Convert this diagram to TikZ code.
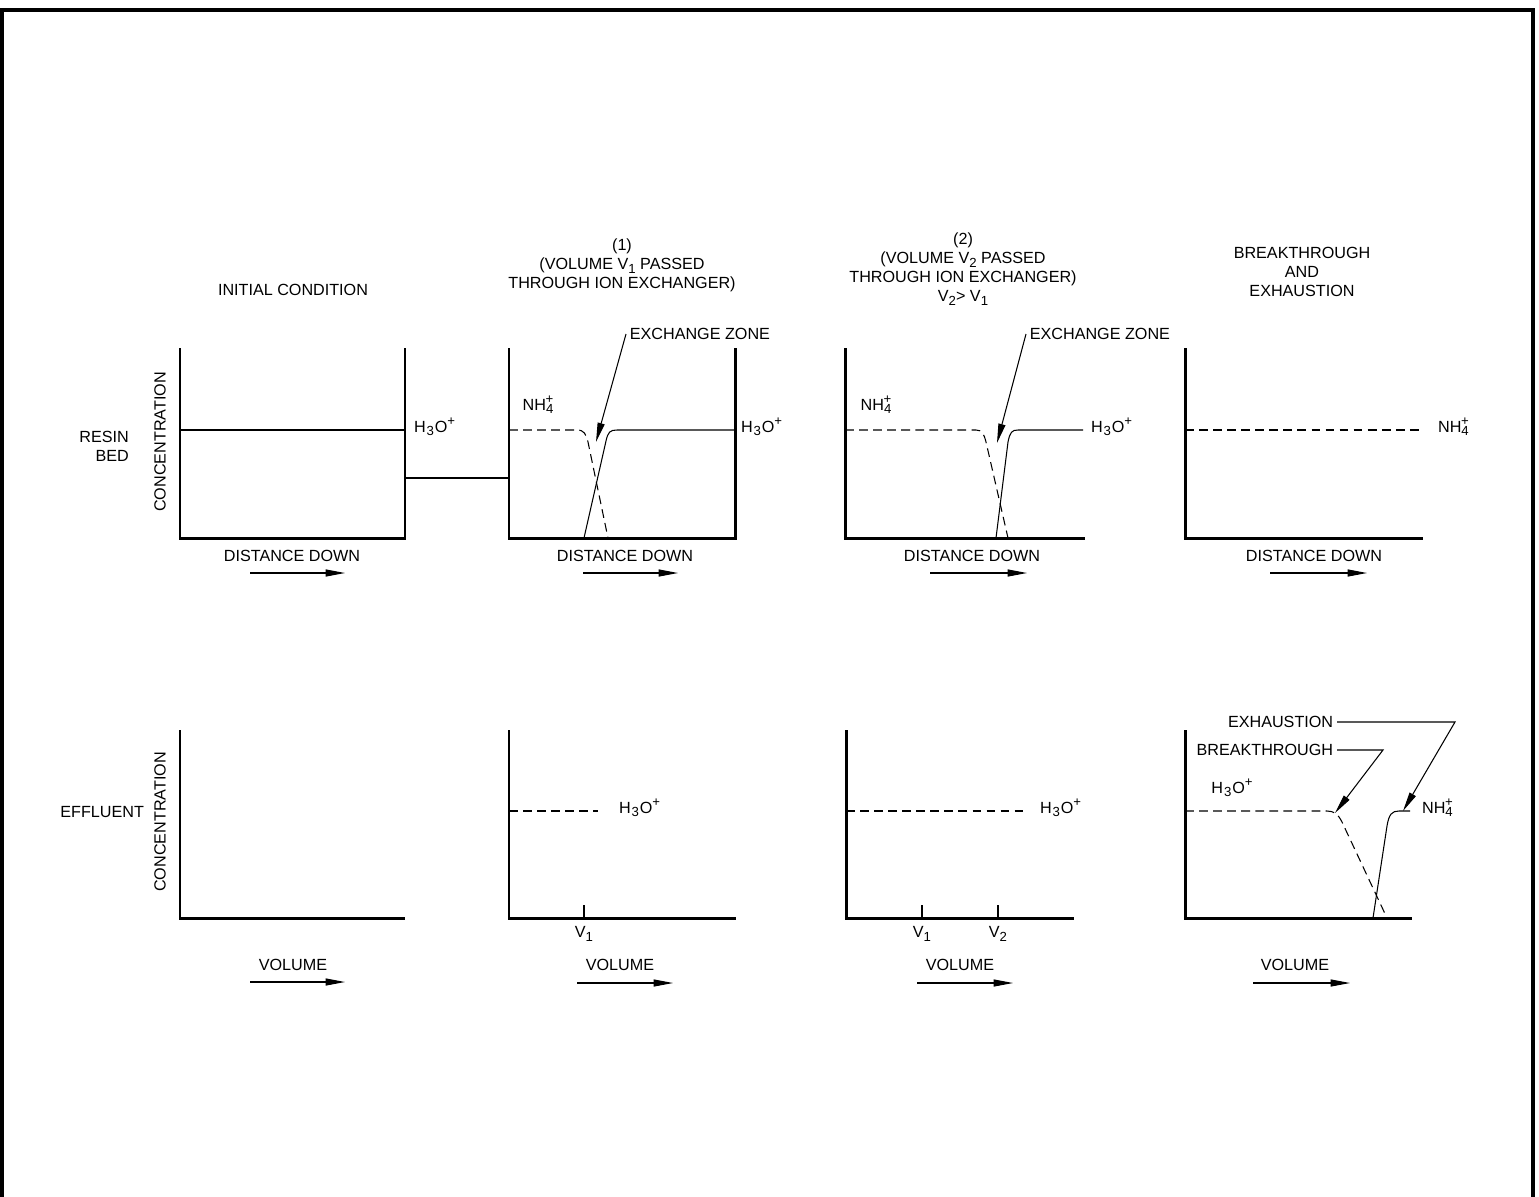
\documentclass[tikz,border=0pt]{standalone}
\usepackage{fontspec}
\setmainfont{Liberation Sans}
\usetikzlibrary{arrows.meta, positioning}

\newcommand{\lowidx}[1]{\raisebox{-0.45ex}{\fontsize{7.5}{8}\selectfont #1}}
\newcommand{\highidx}[1]{\raisebox{0.75ex}{\fontsize{7.5}{8}\selectfont #1}}
\newcommand{\hthreeo}{H\kern0.5pt\lowidx{3}\kern0.5pt O\highidx{+}}
\newcommand{\nhfour}{NH\lowidx{4}\llap{\highidx{+}}}

\begin{document}
\begin{tikzpicture}[
    x=0.02cm, y=-0.02cm,
    every node/.style={font=\fontsize{9.2}{10.8}\selectfont, inner sep=1pt},
    frame/.style={line width=2.3pt},
    axisline/.style={line width=1.7pt},
    curve/.style={line width=0.6pt},
    dashcurve/.style={line width=0.6pt, dash pattern=on 5pt off 3pt},
    pointer/.style={
        line width=0.6pt, -{Triangle[length=11pt, width=4pt]}
    },
    dirarrow/.style={
        line width=0.6pt, -{Triangle[length=11pt, width=4pt]}
    },
    title/.style={align=center},
    ylabel/.style={rotate=90}
]
\useasboundingbox (0,0) rectangle (1539,1197);

% Outer frame
\draw[frame] (2,1197) -- (2,10) -- (1533,10) -- (1533,1197);

% Row labels
\node[align=right, anchor=east] (resinbed) at (131,446) {RESIN\\BED};
\node[anchor=east] (effluent) at (146,812) {EFFLUENT};
\node[ylabel] (conc_top) at (160,442) {CONCENTRATION};
\node[ylabel] (conc_bot) at (160,822) {CONCENTRATION};

% Panel 1: Initial condition
\node[title] (t1) at (293,290) {INITIAL CONDITION};
\draw[axisline] (180,348) -- (180,538) -- (405,538) -- (405,348);
\draw[curve] (180,430) -- (405,430);
\node[anchor=west] (h1) at (412,427) {\hthreeo};
\draw[curve] (405,478) -- (509,478);
\node (dd1) at (292,556) {DISTANCE DOWN};
\draw[dirarrow] (250,573) -- (345,573);

% Panel 2: volume V1 passed
\node[title] (t2) at (622,265) {(1)\\(VOLUME V\lowidx{1} PASSED\\THROUGH ION EXCHANGER)};
\draw[axisline] (509,348) -- (509,538) -- (735,538) -- (735,348);
\draw[dashcurve] (509,430) -- (577,430) .. controls (584,430) and (586,434) .. (588,442) -- (608,538);
\draw[curve] (584,538) -- (606,441) .. controls (608,432) and (610,430) .. (617,430) -- (735,430);
\node (n2) at (538,405) {\nhfour};
\node[anchor=west] (h2) at (739,427) {\hthreeo};
\node[anchor=west, inner sep=2pt] (xz2) at (626,334) {EXCHANGE ZONE};
\coordinate (xz2tip) at (596,442);
\draw[pointer] (xz2.west) -- (xz2tip);
\node (dd2) at (625,556) {DISTANCE DOWN};
\draw[dirarrow] (583,573) -- (678,573);

% Panel 3: volume V2 passed
\node[title] (t3) at (963,269) {(2)\\(VOLUME V\lowidx{2} PASSED\\THROUGH ION EXCHANGER)\\V\lowidx{2}> V\lowidx{1}};
\draw[axisline] (845,348) -- (845,538) -- (1085,538);
\draw[dashcurve] (845,430) -- (976,430) .. controls (982,430) and (984,434) .. (986,442) -- (1008,538);
\draw[curve] (996,538) -- (1008,442) .. controls (1010,432) and (1012,430) .. (1018,430) -- (1083,430);
\node (n3) at (876,405) {\nhfour};
\node[anchor=west] (h3) at (1089,427) {\hthreeo};
\node[anchor=west, inner sep=2pt] (xz3) at (1026,334) {EXCHANGE ZONE};
\coordinate (xz3tip) at (997,443);
\draw[pointer] (xz3.west) -- (xz3tip);
\node (dd3) at (972,556) {DISTANCE DOWN};
\draw[dirarrow] (930,573) -- (1027,573);

% Panel 4: breakthrough and exhaustion
\node[title] (t4) at (1302,272) {BREAKTHROUGH\\AND\\EXHAUSTION};
\draw[axisline] (1185,348) -- (1185,538) -- (1423,538);
\draw[dashcurve] (1185,430) -- (1423,430);
\node[anchor=west] (n4) at (1436,427) {\nhfour};
\node (dd4) at (1314,556) {DISTANCE DOWN};
\draw[dirarrow] (1270,573) -- (1367,573);

% Effluent 1
\draw[axisline] (180,730) -- (180,918) -- (405,918);
\node (vol1) at (293,965) {VOLUME};
\draw[dirarrow] (250,982) -- (345,982);

% Effluent 2
\draw[axisline] (509,730) -- (509,918) -- (736,918);
\draw[dashcurve] (509,811) -- (598,811);
\node[anchor=west] (eh2) at (617,808) {\hthreeo};
\draw[curve] (584,905) -- (584,918);
\node (v1a) at (584,934) {V\lowidx{1}};
\node (vol2) at (620,965) {VOLUME};
\draw[dirarrow] (577,983) -- (673,983);

% Effluent 3
\draw[axisline] (846,730) -- (846,918) -- (1074,918);
\draw[dashcurve] (846,811) -- (1025,811);
\node[anchor=west] (eh3) at (1038,808) {\hthreeo};
\draw[curve] (922,905) -- (922,918);
\draw[curve] (998,905) -- (998,918);
\node (v1b) at (922,934) {V\lowidx{1}};
\node (v2b) at (998,934) {V\lowidx{2}};
\node (vol3) at (960,965) {VOLUME};
\draw[dirarrow] (917,983) -- (1013,983);

% Effluent 4
\draw[axisline] (1185,730) -- (1185,918) -- (1412,918);
\draw[dashcurve] (1185,811) -- (1327,811) .. controls (1334,811) and (1338,814) .. (1342,822) -- (1387,918);
\draw[curve] (1373,918) -- (1387,826) .. controls (1389,814) and (1392,811) .. (1399,811) -- (1410,811);
\node (eh4) at (1232,788) {\hthreeo};
\node[anchor=west] (en4) at (1420,808) {\nhfour};
\node[anchor=east, inner sep=2pt] (exh) at (1337,722) {EXHAUSTION};
\node[anchor=east, inner sep=2pt] (brk) at (1337,750) {BREAKTHROUGH};
\coordinate (exhbend) at (1455,722);
\coordinate (exhtip) at (1403,811);
\coordinate (brkbend) at (1383,750);
\coordinate (brktip) at (1335,813);
\draw[pointer] (exh.east) -- (exhbend) -- (exhtip);
\draw[pointer] (brk.east) -- (brkbend) -- (brktip);
\node (vol4) at (1295,965) {VOLUME};
\draw[dirarrow] (1253,983) -- (1350,983);

\end{tikzpicture}
\end{document}
